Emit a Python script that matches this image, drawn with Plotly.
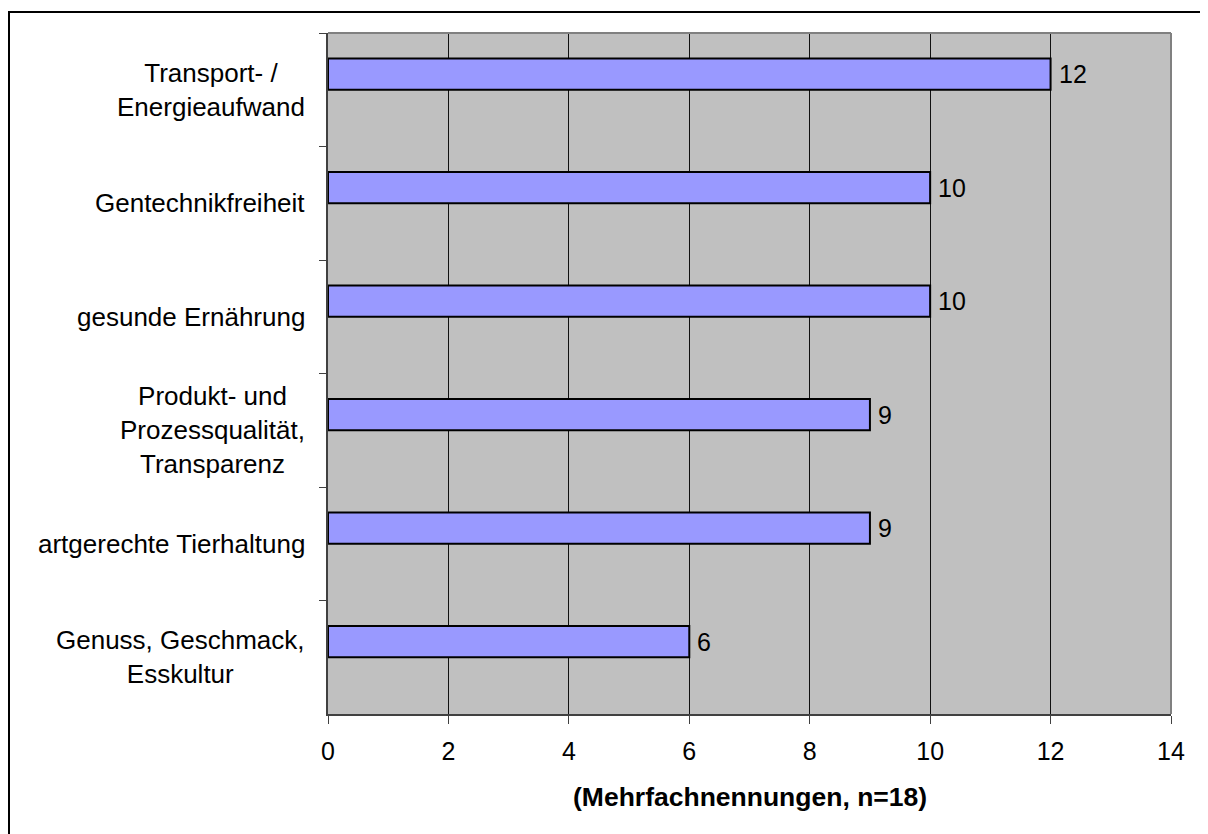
import plotly.graph_objects as go

categories = [
    "Transport- /<br>Energieaufwand",
    "Gentechnikfreiheit",
    "gesunde Ernährung",
    "Produkt- und<br>Prozessqualität,<br>Transparenz",
    "artgerechte Tierhaltung",
    "Genuss, Geschmack,<br>Esskultur",
]
values = [12, 10, 10, 9, 9, 6]
x_ticks = [0, 2, 4, 6, 8, 10, 12, 14]
x_title = "(Mehrfachnennungen, n=18)"

FONT = "Liberation Sans, Arial, sans-serif"
# the page places the figure 8px from the top-left corner of the window
W, H = 1200, 826
L, R, T, B = 320, 37, 25, 120

BAR_W = 0.275

fig = go.Figure()
fig.add_trace(go.Bar(
    x=values, y=categories, orientation="h",
    marker=dict(color="#9999FF", line=dict(color="#000000", width=2)),
    width=BAR_W, offset=-BAR_W, hoverinfo="skip",
))

pw = W - L - R
ph = H - T - B
band_px = ph / len(categories)

annotations = []
for c, v in zip(categories, values):
    annotations.append(dict(x=v, y=c, xref="x", yref="y", text=str(v), showarrow=False,
                            xanchor="left", yanchor="middle", xshift=6,
                            yshift=BAR_W / 2 * band_px,
                            font=dict(family=FONT, size=25, color="#000")))
    annotations.append(dict(x=0, y=c, xref="paper", yref="y", text=c, showarrow=False,
                            xanchor="right", align="center", xshift=-21,
                            font=dict(family=FONT, size=26, color="#000")))
annotations.append(dict(x=0.5, y=-0.122, xref="paper", yref="paper", text="<b>" + x_title + "</b>",
                        showarrow=False, xanchor="center", yanchor="middle",
                        font=dict(family=FONT, size=26.5, color="#000")))

shapes = [
    # outer chart frame (only top and left edges are visible)
    dict(type="rect", xref="paper", yref="paper",
         x0=(1 - L) / pw, x1=(W + 20 - L) / pw,
         y0=(H - B - (H + 20)) / ph, y1=(H - B - 4) / ph,
         line=dict(color="#000000", width=2), fillcolor="rgba(0,0,0,0)", layer="below"),
    # top and right plot border (gray)
    dict(type="line", xref="paper", yref="paper", x0=0, x1=1, y0=1, y1=1,
         line=dict(color="#808080", width=2)),
    dict(type="line", xref="paper", yref="paper", x0=1, x1=1, y0=0, y1=1,
         line=dict(color="#808080", width=2)),
]

fig.update_layout(
    width=W, height=H,
    margin=dict(l=L, r=R, t=T, b=B, pad=0),
    paper_bgcolor="#FFFFFF", plot_bgcolor="#C0C0C0",
    showlegend=False,
    font=dict(family=FONT, size=25, color="#000"),
    annotations=annotations, shapes=shapes,
)
fig.update_xaxes(
    range=[0, 14], tickvals=x_ticks, ticktext=[str(t) for t in x_ticks],
    showgrid=True, gridcolor="#111111", gridwidth=1,
    showline=True, linecolor="#404040", linewidth=2,
    ticks="outside", ticklen=8, tickcolor="#404040", tickwidth=1,
    ticklabelstandoff=6,
    tickfont=dict(family=FONT, size=25, color="#000"),
    zeroline=False, fixedrange=True,
)
fig.update_yaxes(
    autorange="reversed", type="category",
    showticklabels=False, tickson="boundaries",
    ticks="outside", ticklen=7, tickcolor="#404040", tickwidth=1,
    showgrid=False, showline=True, linecolor="#404040", linewidth=2,
    zeroline=False, fixedrange=True,
)

fig.write_html("out.html")
